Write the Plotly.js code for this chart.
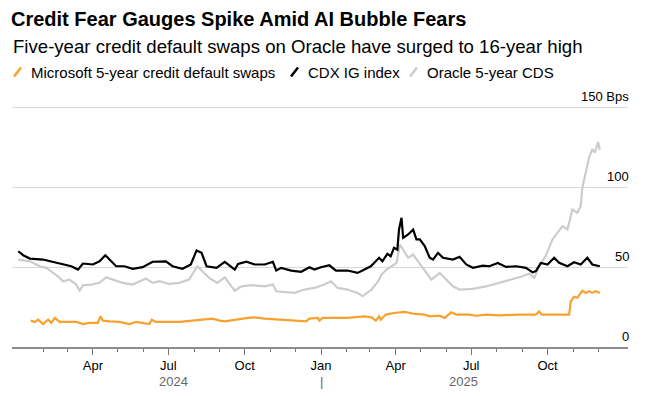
<!DOCTYPE html>
<html>
<head>
<meta charset="utf-8">
<script src="https://cdn.plot.ly/plotly-3.0.1.min.js"></script>
<style>
  html, body { margin: 0; padding: 0; background: #fff; }
  #chart { width: 646px; height: 397px; }
</style>
</head>
<body>
<div id="chart"></div>
<script>
// ---------------- DATA ----------------
const seriesNames = ['Microsoft 5-year credit default swaps', 'CDX IG index', 'Oracle 5-year CDS'];
const seriesColors = ['#f9a12e', '#000000', '#cccccc'];

const msftDates = ['2024-01-17','2024-01-22','2024-01-26','2024-02-01','2024-02-07','2024-02-11','2024-02-15','2024-02-21','2024-03-12','2024-03-20','2024-03-28','2024-04-07','2024-04-10','2024-04-13','2024-04-21','2024-05-03','2024-05-15','2024-05-23','2024-06-08','2024-06-11','2024-06-16','2024-06-28','2024-07-14','2024-07-30','2024-08-23','2024-09-01','2024-09-07','2024-10-05','2024-10-11','2024-10-25','2024-12-14','2024-12-18','2024-12-28','2024-12-30','2025-01-03','2025-02-02','2025-02-22','2025-03-03','2025-03-08','2025-03-12','2025-03-14','2025-03-20','2025-03-30','2025-04-12','2025-04-24','2025-05-06','2025-05-12','2025-05-24','2025-05-30','2025-06-07','2025-06-13','2025-06-29','2025-07-07','2025-07-19','2025-08-04','2025-08-28','2025-09-17','2025-09-21','2025-09-24','2025-10-07','2025-10-27','2025-10-29','2025-11-02','2025-11-06','2025-11-12','2025-11-16','2025-11-20','2025-11-24','2025-11-28','2025-12-03'];
const msftValues = [16.5,15.7,17.1,14.4,17.1,15.1,18.2,15.7,15.7,14.4,15.1,15.1,19.2,16.5,16.1,15.7,14.4,15.7,14.4,17.1,15.7,15.7,15.7,16.5,17.8,16.5,16.1,18.2,18.6,17.8,16.1,17.8,18.2,16.5,18.2,18.2,19.2,18.6,16.5,19.2,17.1,20.3,21.3,22.0,20.7,20.3,19.2,19.6,18.2,21.7,20.3,20.3,19.6,20.3,19.8,20.3,20.3,22.3,20.3,20.3,20.3,28.6,31.4,30.8,35.3,33.9,34.9,33.9,34.9,33.9];

const cdxDates = ['2024-01-02','2024-01-08','2024-01-16','2024-02-01','2024-02-12','2024-02-24','2024-03-06','2024-03-14','2024-03-20','2024-04-01','2024-04-09','2024-04-16','2024-04-21','2024-04-29','2024-05-09','2024-05-19','2024-05-31','2024-06-12','2024-06-28','2024-07-06','2024-07-18','2024-07-28','2024-08-04','2024-08-10','2024-08-16','2024-08-28','2024-09-07','2024-09-19','2024-09-23','2024-10-03','2024-10-13','2024-10-25','2024-11-04','2024-11-08','2024-11-14','2024-11-26','2024-12-08','2024-12-18','2024-12-24','2025-01-01','2025-01-11','2025-01-19','2025-02-02','2025-02-14','2025-02-20','2025-03-02','2025-03-12','2025-03-16','2025-03-22','2025-03-26','2025-03-30','2025-04-03','2025-04-05','2025-04-08','2025-04-10','2025-04-16','2025-04-22','2025-04-26','2025-04-30','2025-05-04','2025-05-06','2025-05-12','2025-05-16','2025-05-22','2025-05-28','2025-06-09','2025-06-17','2025-06-25','2025-07-03','2025-07-15','2025-07-23','2025-08-02','2025-08-12','2025-08-24','2025-09-05','2025-09-13','2025-09-17','2025-09-23','2025-10-01','2025-10-09','2025-10-15','2025-10-25','2025-11-02','2025-11-10','2025-11-18','2025-11-24','2025-12-03'];
const cdxValues = [60,57.5,55.4,54.8,53.4,51.7,50.6,48.5,52.3,51.7,53.7,57.5,54.8,50.6,50.6,49,50,53.4,53.7,50.6,49,51.7,60.5,59,50.6,49.6,53.4,48.5,52,53.4,51.7,51.7,53.4,47.9,49.6,47.9,47.1,50,48.5,50,51.2,47.9,47.9,46.4,47.9,50.6,55.9,53.7,58.4,56.9,62.1,61,73.6,81,68.4,70.5,73.6,67.4,67.4,64.2,63.2,55.9,54.8,59,55.9,54.8,56.5,51.7,49.6,51,50.6,52.7,50.2,50.6,49.6,46.8,47.5,52.7,51.7,55.9,52.7,50.6,53.1,51.7,55.9,51.7,50.6];

const oracleDates = ['2024-01-02','2024-01-16','2024-01-28','2024-02-05','2024-02-13','2024-02-19','2024-02-25','2024-03-04','2024-03-12','2024-03-16','2024-03-20','2024-03-30','2024-04-09','2024-04-17','2024-04-25','2024-05-07','2024-05-19','2024-06-04','2024-06-12','2024-06-20','2024-07-02','2024-07-14','2024-07-26','2024-08-01','2024-08-05','2024-08-11','2024-08-19','2024-08-29','2024-09-07','2024-09-15','2024-09-19','2024-09-27','2024-10-09','2024-10-25','2024-11-04','2024-11-08','2024-11-18','2024-11-30','2024-12-12','2024-12-24','2025-01-05','2025-01-13','2025-01-21','2025-02-02','2025-02-14','2025-02-20','2025-03-03','2025-03-11','2025-03-15','2025-03-21','2025-03-27','2025-04-02','2025-04-06','2025-04-10','2025-04-16','2025-04-22','2025-04-28','2025-05-06','2025-05-14','2025-05-24','2025-06-01','2025-06-09','2025-06-17','2025-07-03','2025-07-19','2025-08-04','2025-08-20','2025-09-01','2025-09-09','2025-09-15','2025-09-21','2025-09-29','2025-10-07','2025-10-13','2025-10-19','2025-10-25','2025-10-31','2025-11-06','2025-11-10','2025-11-12','2025-11-16','2025-11-20','2025-11-24','2025-11-27','2025-12-01','2025-12-03'];
const oracleValues = [54.8,53.7,50.6,49.6,46.4,44.3,41.2,42.2,39.1,35.3,38.7,39.1,40.2,43.7,42.2,40.2,39.1,42.9,40.2,41.2,39.5,40.2,42.2,47.5,50.6,47.5,43.3,40.2,43.7,38,35.3,38,38.7,38,39.1,34.9,34.5,33.9,36,37,39.1,41.2,37,36,33.9,31.8,36,41.2,45.4,48.5,50.6,52.7,64.2,61,55.9,57.9,53.7,48.5,42.2,46.4,42.2,38,36,36.4,38,40.2,42.2,44.3,46,43.3,50.6,57.3,67.4,71.6,75.7,73.6,86.2,84.1,88.3,99.8,109.2,118.6,123.9,121.8,128.4,123.4];

const monthTickDates = ['2024-04-01','2024-07-01','2024-10-01','2025-01-01','2025-04-01','2025-07-01','2025-10-01'];
const monthTickLabels = ['Apr','Jul','Oct','Jan','Apr','Jul','Oct'];
const minorTickDates = ['2024-02-01','2024-03-01','2024-04-01','2024-05-01','2024-06-01','2024-07-01','2024-08-01','2024-09-01','2024-10-01','2024-11-01','2024-12-01','2025-01-01','2025-02-01','2025-03-01','2025-04-01','2025-05-01','2025-06-01','2025-07-01','2025-08-01','2025-09-01','2025-10-01','2025-11-01','2025-12-01'];
const yearLabels = ['2024', '|', '2025'];
const yearLabelDates = ['2024-07-07', '2025-01-01', '2025-06-22'];
const yTickVals = [0, 50, 100, 150];
const yTickText = ['0', '50', '100', '150 Bps'];

// ---------------- CHART ----------------
const FONT = 'Liberation Sans, Arial, sans-serif';
const W = 646, H = 397;
const M = {l: 12, r: 18, t: 106, b: 50};
const plotH = H - M.t - M.b;
const pyPaper = (py) => (H - M.b - py) / plotH;

const traces = [
  {x: oracleDates, y: oracleValues, name: seriesNames[2], type: 'scatter', mode: 'lines',
   line: {color: seriesColors[2], width: 2.2}},
  {x: cdxDates, y: cdxValues, name: seriesNames[1], type: 'scatter', mode: 'lines',
   line: {color: seriesColors[1], width: 2.2}},
  {x: msftDates, y: msftValues, name: seriesNames[0], type: 'scatter', mode: 'lines',
   line: {color: seriesColors[0], width: 2.2}}
];

// custom legend: slashes + labels
const legendX = [12, 289, 408];
const legendY = 72;
const shapes = [];
const annotations = [];
seriesNames.forEach((name, i) => {
  shapes.push({
    type: 'line', xref: 'paper', yref: 'paper',
    xsizemode: 'pixel', ysizemode: 'pixel',
    xanchor: 0, yanchor: pyPaper(legendY),
    x0: legendX[i] - M.l + 2, x1: legendX[i] - M.l + 9,
    y0: -4.5, y1: 4.5,
    line: {color: seriesColors[i], width: 2.5}
  });
  annotations.push({
    text: name, xref: 'paper', yref: 'paper',
    x: (legendX[i] + 17 - M.l) / (W - M.l - M.r), xanchor: 'left',
    y: pyPaper(legendY), yanchor: 'middle',
    showarrow: false, font: {family: FONT, size: 15, color: '#000'}
  });
});

annotations.push({
  text: 'Five-year credit default swaps on Oracle have surged to 16-year high',
  xref: 'paper', yref: 'paper', x: -0.002, xanchor: 'left',
  y: pyPaper(46.5), yanchor: 'middle', showarrow: false,
  font: {family: FONT, size: 18.6, color: '#000'}
});

yearLabels.forEach((t, i) => {
  annotations.push({
    text: t, xref: 'x', yref: 'paper', x: yearLabelDates[i], xanchor: 'center',
    y: pyPaper(381), yanchor: 'middle', showarrow: false,
    font: {family: FONT, size: 13, color: '#666'}
  });
});

// right-hand value labels sitting above their gridlines
yTickVals.forEach((v, i) => {
  annotations.push({
    text: yTickText[i], xref: 'paper', yref: 'y', x: 1, xanchor: 'right', xshift: 3,
    y: v, yanchor: 'middle', yshift: 11, showarrow: false,
    font: {family: FONT, size: 13, color: '#000'}
  });
});

const layout = {
  width: W, height: H,
  margin: M,
  paper_bgcolor: '#fff', plot_bgcolor: '#fff',
  showlegend: false,
  title: {
    text: '<b>Credit Fear Gauges Spike Amid AI Bubble Fears</b>',
    font: {family: FONT, size: 20, color: '#000'},
    xref: 'container', x: 11 / W, xanchor: 'left',
    yref: 'container', y: 1 - 19 / H, yanchor: 'middle'
  },
  xaxis: {
    type: 'date',
    range: ['2023-12-25 12:00', '2026-01-06'],
    tickmode: 'array', tickvals: monthTickDates, ticktext: monthTickLabels,
    ticks: 'outside', ticklen: 6, tickwidth: 1, tickcolor: '#777',
    minor: {tickmode: 'array', tickvals: minorTickDates, ticks: 'outside', ticklen: 3, tickwidth: 1, tickcolor: '#777', showgrid: false},
    showline: true, linecolor: '#8c8c8c', linewidth: 1.5,
    showgrid: false, zeroline: false,
    tickfont: {family: FONT, size: 13, color: '#000'}
  },
  yaxis: {
    range: [0, 151], side: 'right',
    tickmode: 'array', tickvals: yTickVals,
    showticklabels: false, ticks: '',
    showgrid: true, gridcolor: '#d9d9d9', gridwidth: 1,
    zeroline: false, showline: false
  },
  shapes: shapes,
  annotations: annotations
};

Plotly.newPlot('chart', traces, layout, {displayModeBar: false, staticPlot: true});
</script>
</body>
</html>
